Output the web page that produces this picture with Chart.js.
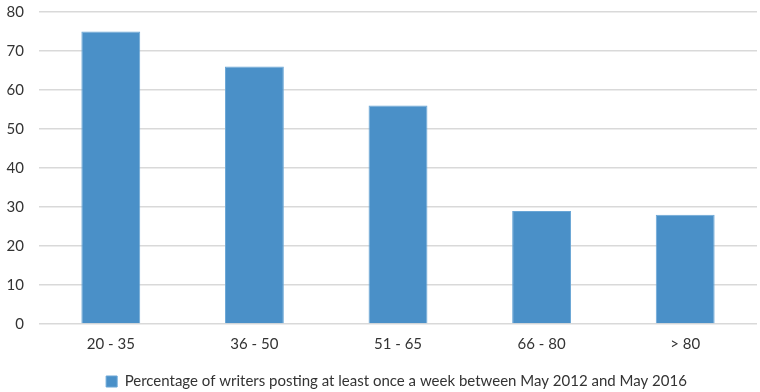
<!DOCTYPE html>
<html><head><meta charset="utf-8">
<script src="https://cdn.jsdelivr.net/npm/chart.js@4"></script>
<style>html,body{margin:0;padding:0;background:#fff}#wrap{width:760px;height:392px}</style>
</head><body><div id="wrap"><canvas id="c"></canvas></div>
<script>
const categories = ["20 - 35", "36 - 50", "51 - 65", "66 - 80", "> 80"];
const values = [75, 66, 56, 29, 28];
const seriesLabel = "Percentage of writers posting at least once a week between May 2012 and May 2016";
const yTicks = [0, 10, 20, 30, 40, 50, 60, 70, 80];

const font = "Lato, 'Open Sans', sans-serif";
const legendShift = {
  id: 'legendShift',
  afterLayout(chart) {
    if (chart.legend) {
      chart.legend.left += 36;
      chart.legend.top += 7;
      chart.legend.bottom += 7;
    }
  }
};
new Chart(document.getElementById('c'), {
  type: 'bar',
  plugins: [legendShift],
  data: {
    labels: categories,
    datasets: [{
      label: seriesLabel,
      data: values,
      backgroundColor: '#4a90c8',
      borderColor: '#6aa6d6',
      borderWidth: 1,
      categoryPercentage: 0.41,
      barPercentage: 1.0
    }]
  },
  options: {
    responsive: true,
    maintainAspectRatio: false,
    animation: false,
    layout: { padding: { top: 0, right: 3, left: 0, bottom: 0 } },
    plugins: {
      tooltip: { enabled: false },
      legend: {
        position: 'bottom',
        labels: {
          boxWidth: 11, boxHeight: 11, padding: 11,
          color: '#333333',
          font: { family: font, size: 15 }
        }
      }
    },
    scales: {
      y: {
        min: 0, max: 80,
        afterFit: (s) => { s.width = 39; },
        afterBuildTicks: (s) => { s.ticks = yTicks.map(v => ({ value: v })); },
        border: { display: false },
        grid: { color: '#d9d9d9', lineWidth: 1.5, drawTicks: true, tickLength: 12, tickColor: 'rgba(0,0,0,0)' },
        ticks: { color: '#333333', padding: 3, font: { family: font, size: 15 } }
      },
      x: {
        border: { display: false },
        grid: { display: false },
        ticks: { color: '#333333', padding: 3, font: { family: font, size: 15 } }
      }
    }
  }
});
</script></body></html>
